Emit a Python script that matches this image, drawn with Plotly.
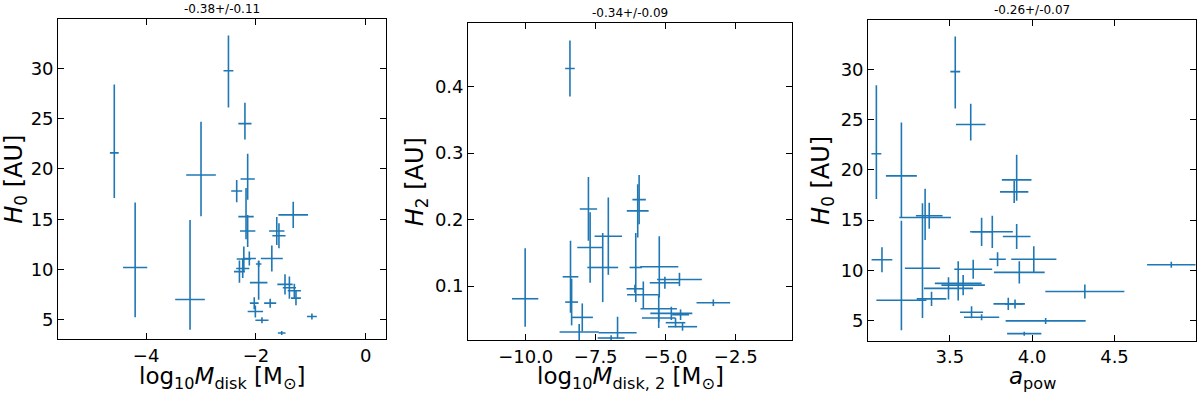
import plotly.graph_objects as go
from plotly.subplots import make_subplots

# painel 1 e 3: mesmos objetos (H0 compartilhado)
log_mdisk = [-2.50, -4.58, -2.20, -3.00, -2.15, -2.35, -2.18, -1.32, -2.15, -1.62,
             -1.58, -1.71, -2.12, -2.22, -2.30, -2.24, -1.95, -1.95, -1.47, -1.39,
             -1.30, -1.27, -2.03, -1.74, -2.01, -1.89, -0.98, -1.53, -4.20, -3.20]
log_mdisk_err = [0.09, 0.08, 0.12, 0.27, 0.13, 0.10, 0.14, 0.27, 0.14, 0.14,
                 0.12, 0.20, 0.12, 0.13, 0.10, 0.12, 0.05, 0.16, 0.14, 0.12,
                 0.12, 0.09, 0.08, 0.11, 0.14, 0.12, 0.09, 0.07, 0.22, 0.27]
h0 = [29.76, 21.6, 24.5, 19.4, 19.0, 17.8, 15.26, 15.43, 13.83, 13.83,
      13.36, 11.1, 11.1, 11.05, 9.8, 10.1, 10.55, 8.7, 8.53, 8.2,
      7.9, 7.16, 6.66, 6.66, 5.83, 4.97, 5.33, 3.7, 10.2, 7.03]
# erros assimetricos em H0 (para cima / para baixo)
h0_err_up = [3.5, 6.8, 2.07, 5.3, 2.5, 1.1, 2.85, 1.3, 1.6, 1.4,
             1.25, 1.3, 0.7, 1.25, 1.1, 0.95, 0.3, 2.2, 1.0, 1.1,
             0.7, 0.7, 0.6, 0.45, 0.6, 0.3, 0.3, 0.2, 6.46, 7.9]
h0_err_dn = [3.66, 4.5, 1.58, 4.1, 2.07, 1.1, 2.25, 1.3, 1.6, 1.4,
             1.25, 1.3, 0.7, 1.25, 1.1, 0.95, 0.3, 1.7, 1.0, 1.1,
             0.7, 0.7, 0.6, 0.45, 0.6, 0.3, 0.3, 0.2, 4.94, 3.0]
a_pow = [3.533, 3.054, 3.627, 3.206, 3.906, 3.891, 3.350, 3.375, 3.758, 3.693,
         3.906, 4.010, 3.790, 3.088, 3.922, 3.642, 4.845, 3.551, 3.581, 3.492,
         4.320, 3.389, 3.855, 3.896, 3.632, 4.082, 3.693, 3.952, 3.334, 3.206]
a_pow_err = [0.03, 0.03, 0.09, 0.094, 0.09, 0.086, 0.157, 0.081, 0.125, 0.07,
             0.084, 0.137, 0.05, 0.063, 0.154, 0.115, 0.147, 0.142, 0.132, 0.149,
             0.24, 0.09, 0.09, 0.06, 0.07, 0.243, 0.107, 0.104, 0.107, 0.152]

# painel 2
log_mdisk2 = [-8.42, -10.02, -8.40, -8.36, -7.98, -8.09, -7.76, -7.70, -7.05, -7.25,
              -5.95, -6.00, -6.07, -5.23, -5.03, -4.51, -6.10, -5.80, -3.30,
              -5.25, -4.80, -5.25, -4.40, -4.47, -4.65, -6.72, -6.95]
log_mdisk2_err = [0.17, 0.47, 0.28, 0.23, 0.38, 0.70, 0.31, 0.46, 0.49, 0.55,
                  0.24, 0.39, 0.22, 0.68, 0.54, 0.80, 0.30, 0.58, 0.60,
                  0.65, 0.75, 0.60, 0.52, 0.30, 0.35, 0.68, 0.48]
h2 = [0.427, 0.081, 0.114, 0.076, 0.053, 0.031, 0.216, 0.158, 0.175, 0.128,
      0.230, 0.213, 0.128, 0.129, 0.105, 0.110, 0.096, 0.087, 0.075,
      0.066, 0.059, 0.052, 0.039, 0.057, 0.045, 0.030, 0.022]
h2_err_up = [0.042, 0.076, 0.054, 0.035, 0.021, 0.012, 0.048, 0.053, 0.058, 0.052,
             0.037, 0.040, 0.052, 0.046, 0.009, 0.010, 0.006, 0.020, 0.005,
             0.020, 0.010, 0.015, 0.006, 0.008, 0.007, 0.024, 0.004]
h2_err_dn = [0.042, 0.042, 0.054, 0.035, 0.021, 0.012, 0.048, 0.053, 0.058, 0.052,
             0.037, 0.040, 0.052, 0.046, 0.009, 0.010, 0.006, 0.020, 0.005,
             0.020, 0.010, 0.015, 0.006, 0.008, 0.007, 0.009, 0.004]

titulos = ["-0.38+/-0.11", "-0.34+/-0.09", "-0.26+/-0.07"]

cor = "#1f77b4"
fonte = "DejaVu Sans"

fig = make_subplots(rows=1, cols=3)

paineis = [
    (log_mdisk, log_mdisk_err, h0, h0_err_up, h0_err_dn),
    (log_mdisk2, log_mdisk2_err, h2, h2_err_up, h2_err_dn),
    (a_pow, a_pow_err, h0, h0_err_up, h0_err_dn),
]
for i, (x, ex, y, ey_up, ey_dn) in enumerate(paineis):
    fig.add_trace(go.Scatter(
        x=x, y=y, mode="markers",
        marker=dict(size=1, color=cor),
        error_x=dict(type="data", array=ex, color=cor, thickness=1.6, width=0),
        error_y=dict(type="data", symmetric=False, array=ey_up, arrayminus=ey_dn,
                     color=cor, thickness=1.6, width=0),
        showlegend=False), row=1, col=i + 1)

# dominios em pixels medidos na imagem de referencia
dom_x = [(58.3, 386.0), (468.3, 792.3), (868.3, 1196.0)]
dom_y = [(19.0, 339.3), (23.3, 340.0), (20.0, 340.7)]
faixa_x = [(-5.6, 0.37), (-12.05, -0.48), (3.005, 4.995)]
faixa_y = [(3.07, 34.9), (0.019, 0.495), (3.0, 34.9)]
dtick_x = [2, 2.5, 0.5]
dtick_y = [5, 0.1, 5]
fmt_x = ["d", ".1f", ".1f"]
fmt_y = ["d", ".1f", "d"]
tit_x = ["log<sub>10</sub><i>M</i><sub>disk</sub> [M<sub>⊙</sub>]",
         "log<sub>10</sub><i>M</i><sub>disk, 2</sub> [M<sub>⊙</sub>]",
         "<i>a</i><sub>pow</sub>"]
tit_y = ["<i>H</i><sub>0</sub> [AU]", "<i>H</i><sub>2</sub> [AU]", "<i>H</i><sub>0</sub> [AU]"]

W, H = 1200, 393
for i in range(3):
    eixo = dict(showline=True, linecolor="black", linewidth=1.3, mirror="ticks",
                ticks="inside", ticklen=6, tickwidth=1.3, tickcolor="black",
                showgrid=False, zeroline=False, automargin=False,
                tickfont=dict(family=fonte, size=18, color="black"))
    fig.update_xaxes(eixo, row=1, col=i + 1,
                     domain=[dom_x[i][0] / W, dom_x[i][1] / W],
                     range=list(faixa_x[i]), tick0=0, dtick=dtick_x[i], tickformat=fmt_x[i])
    fig.update_yaxes(eixo, row=1, col=i + 1,
                     domain=[1 - dom_y[i][1] / H, 1 - dom_y[i][0] / H],
                     range=list(faixa_y[i]), tick0=0, dtick=dtick_y[i], tickformat=fmt_y[i],
                     title=dict(text=tit_y[i], standoff=4,
                                font=dict(family=fonte, size=24, color="black")))
    centro = (dom_x[i][0] + dom_x[i][1]) / 2 / W
    # titulo do eixo x como anotacao, para controlar a posicao vertical
    fig.add_annotation(text=tit_x[i], xref="paper", yref="paper",
                       x=centro, y=1 - 378 / H, xanchor="center", yanchor="middle",
                       showarrow=False, font=dict(family=fonte, size=23, color="black"))
    fig.add_annotation(text=titulos[i], xref="paper", yref="paper",
                       x=centro, y=1 - dom_y[i][0] / H, xanchor="center", yanchor="bottom",
                       yshift=1, showarrow=False,
                       font=dict(family=fonte, size=12, color="black"))

fig.update_layout(width=W, height=H, margin=dict(l=0, r=0, t=0, b=0),
                  paper_bgcolor="white", plot_bgcolor="white",
                  font=dict(family=fonte, color="black"))

# tira a margem padrao do <body> para a figura ocupar a janela inteira
fig.write_html("out.html", config={"displayModeBar": False},
               post_script="document.body.style.margin='0';")
